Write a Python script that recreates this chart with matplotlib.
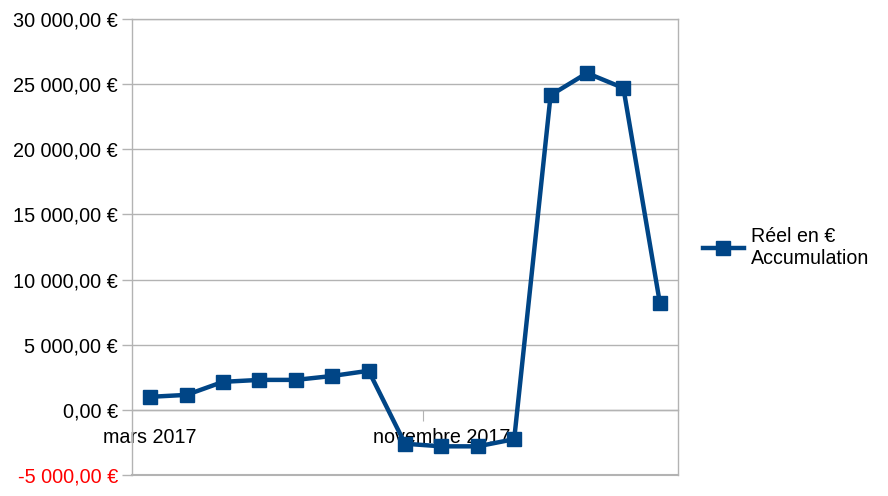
import matplotlib
matplotlib.use("Agg")
import matplotlib.pyplot as plt
from matplotlib.ticker import FuncFormatter, FixedLocator

plt.rcParams['font.family'] = ['Liberation Sans', 'DejaVu Sans']

months = ["mars 2017", "avril 2017", "mai 2017", "juin 2017", "juillet 2017",
          "août 2017", "septembre 2017", "octobre 2017", "novembre 2017",
          "décembre 2017", "janvier 2018", "février 2018", "mars 2018",
          "avril 2018", "mai 2018"]
values = [1000, 1150, 2150, 2300, 2300, 2600, 3000, -2600, -2800, -2800,
          -2250, 24150, 25850, 24700, 8230]
series_label = "Réel en €\nAccumulation"
shown_labels = {0: "mars 2017", 8: "novembre 2017"}

blue = "#004586"
gray = "#b3b3b3"

fig = plt.figure(figsize=(8.88, 4.96), dpi=100)
ax = fig.add_axes([132/888, (496-475)/496, (678-132)/888, (475-19)/496])

x = list(range(len(months)))
ax.plot(x, values, color=blue, lw=3.2, marker='s', ms=10, mec=blue, mfc=blue,
        label=series_label, zorder=5, clip_on=False)

ax.set_xlim(-0.5, len(months) - 0.5)
ax.set_ylim(-5000, 30000)
ax.set_yticks(range(-5000, 30001, 5000))

def fmt(v, pos):
    s = f"{abs(int(v)):,}".replace(",", " ")
    return ("-" if v < 0 else "") + s + ",00 €"
ax.yaxis.set_major_formatter(FuncFormatter(fmt))
ax.tick_params(axis='y', length=7, width=1, color=gray, labelsize=14.3, pad=3)
ax.yaxis.grid(True, color=gray, lw=1)
ax.set_axisbelow(True)

for s in ax.spines.values():
    s.set_color(gray)
    s.set_linewidth(1)
ax.spines['bottom'].set_position(('data', 0))
ax.axhline(-5000, color=gray, lw=1.5, clip_on=False, zorder=1)

ax.xaxis.set_major_locator(FixedLocator([7.5]))
ax.xaxis.set_major_formatter(FuncFormatter(lambda v, p: ""))
ax.xaxis.set_minor_locator(FixedLocator(list(shown_labels.keys())))
ax.xaxis.set_minor_formatter(FuncFormatter(lambda v, p: shown_labels.get(int(round(v)), "")))
ax.tick_params(axis='x', which='major', length=8, color=gray, direction='out')
ax.tick_params(axis='x', which='minor', length=0, labelsize=14.2, pad=13)

fig.canvas.draw()
for t in ax.get_yticklabels():
    if t.get_text().startswith("-") or t.get_text().startswith("−"):
        t.set_color("red")

fig.legend(loc='center left', bbox_to_anchor=(695/888, 1 - 247/496), frameon=False,
           fontsize=14.1, handlelength=2.1, handletextpad=0.35, borderaxespad=0)

fig.savefig("out.png", dpi=100)
